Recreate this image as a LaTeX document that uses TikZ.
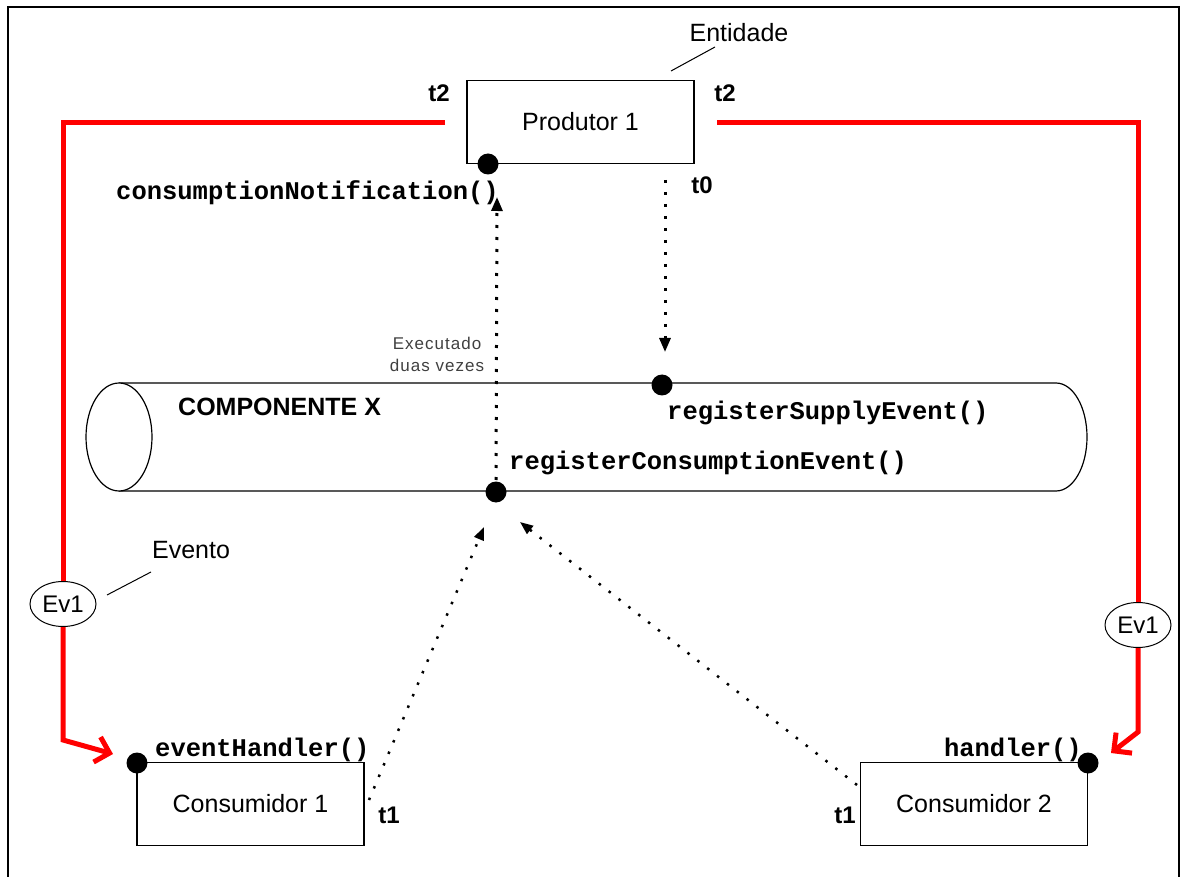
\documentclass[tikz,border=0pt]{standalone}
\usepackage{fontspec}
\setmainfont{Liberation Sans}
\newfontfamily\monof{Liberation Mono}
\newfontfamily\spacedf[LetterSpace=6]{Liberation Sans}
\usetikzlibrary{arrows.meta,shapes.geometric}
\begin{document}
\begin{tikzpicture}[x=1pt,y=-1pt,
  box/.style={draw, line width=1.3pt, minimum width=227pt, minimum height=83pt, inner sep=0pt,
    font=\fontsize{25}{28}\selectfont},
  dotnode/.style={circle, fill=black, minimum size=21pt, inner sep=0pt},
  evt/.style={ellipse, draw, line width=1pt, minimum width=66pt, minimum height=45pt, inner sep=0pt,
    fill=white, font=\fontsize{24}{26}\selectfont},
  mono/.style={inner sep=0pt, font=\monof\bfseries\fontsize{25.5}{28}\selectfont},
  tlabel/.style={inner sep=0pt, font=\bfseries\fontsize{24}{26}\selectfont},
  plain/.style={inner sep=0pt, font=\fontsize{25}{28}\selectfont},
  redline/.style={draw=red, line width=5pt, line join=miter},
  redarrow/.style={redline, -{Straight Barb[length=13pt,width=26pt]}},
  vdots/.style={line width=3pt, dash pattern=on 3pt off 9pt, -{Triangle[length=14pt,width=11pt]}},
  ddots/.style={line width=2.5pt, dash pattern=on 2.5pt off 10pt, -{Triangle[length=13pt,width=10pt]}},
  leader/.style={line width=1pt}
]
\useasboundingbox (0,0) rectangle (1184,877);
\begin{scope}
  \clip (0,0) rectangle (1184,877);
  \draw[line width=2.4pt] (8,7) rectangle (1179,900);
\end{scope}

% cylinder (component)
\draw[line width=1.2pt] (119,383) -- (1056,383)
  arc[start angle=-90, end angle=90, x radius=31, y radius=54] -- (119,491);
\draw[line width=1.2pt, fill=white] (119,437) ellipse [x radius=33, y radius=54];
\node[inner sep=0pt, anchor=west, font=\bfseries\fontsize{25}{28}\selectfont] (compx) at (178,407) {COMPONENTE X};

% boxes
\node[box] (prod) at (580.5,122) {Produtor 1};
\node[box] (cons1) at (250.5,804) {Consumidor 1};
\node[box] (cons2) at (974,804) {Consumidor 2};

% ports
\node[dotnode] (pdot) at (488,164) {};
\node[dotnode] (sdot) at (662,385) {};
\node[dotnode] (cdot) at (496,492) {};
\node[dotnode] (h1dot) at (137,763) {};
\node[dotnode] (h2dot) at (1088,763) {};

% events
\node[evt] (ev1a) at (63,604) {Ev1};
\node[evt] (ev1b) at (1138,625) {Ev1};

% red event flows
\coordinate (rl) at (445,123);
\coordinate (rr) at (717,123);
\coordinate (lbend) at (63,740);
\coordinate (ltip) at (113,754);
\coordinate (rbend) at (1138,732);
\coordinate (rtip) at (1111,753);
\draw[redline] (rl) -| (ev1a.north);
\draw[redline] (rr) -| (ev1b.north);
\draw[redarrow] (ev1a.south) -- (lbend) -- (ltip);
\draw[redarrow] (ev1b.south) -- (rbend) -- (rtip);

% dotted calls
\coordinate (t0s) at (665,180);
\coordinate (t0e) at (665,352);
\coordinate (cnend) at (497,197);
\coordinate (c1s) at (369,800);
\coordinate (c1e) at (484,527);
\coordinate (c2s) at (857,785);
\coordinate (c2e) at (520,522);
\draw[vdots] (t0s) -- (t0e);
\draw[vdots] (cdot.center) -- (cnend);
\draw[ddots] (c1s) -- (c1e);
\draw[ddots] (c2s) -- (c2e);

% method labels
\node[mono, anchor=east] (cn) at (499,193) {consumptionNotification()};
\node[mono, anchor=west] (rse) at (667,413) {registerSupplyEvent()};
\node[mono, anchor=west] (rce) at (509,463) {registerConsumptionEvent()};
\node[mono, anchor=west] (eh) at (155,750) {eventHandler()};
\node[mono, anchor=east] (hd) at (1082,750) {handler()};

% time labels
\node[tlabel] (t2a) at (439,93) {t2};
\node[tlabel] (t2b) at (725,93) {t2};
\node[tlabel] (t0) at (702,185) {t0};
\node[tlabel] (t1a) at (389,815) {t1};
\node[tlabel] (t1b) at (845,815) {t1};

% annotations
\node[plain] (ent) at (739,33) {Entidade};
\coordinate (entA) at (671,71);
\coordinate (entB) at (715,47);
\draw[leader] (entA) -- (entB);
\node[plain] (evento) at (191,550) {Evento};
\coordinate (evA) at (107,595);
\coordinate (evB) at (151,572);
\draw[leader] (evA) -- (evB);
\node[inner sep=0pt, align=center, text=black!75,
  font=\spacedf\fontsize{17}{22}\selectfont] (exec) at (437,354) {Executado\\duas vezes};
\end{tikzpicture}
\end{document}
